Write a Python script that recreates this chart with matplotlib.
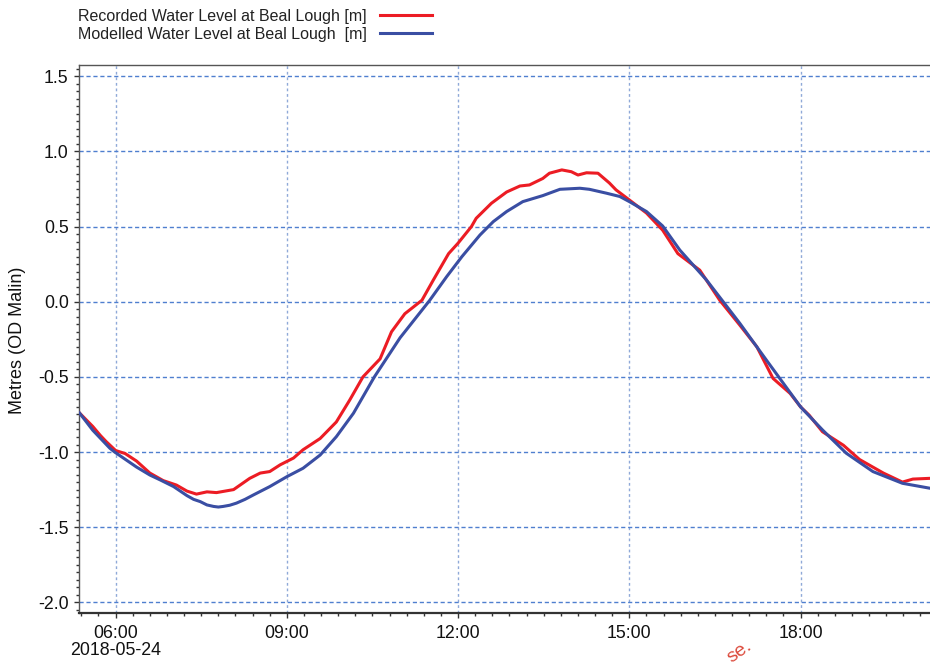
import numpy as np
import pandas as pd
import matplotlib
matplotlib.use('Agg')
import matplotlib.pyplot as plt
import matplotlib.dates as mdates
from matplotlib.ticker import MultipleLocator, FuncFormatter
from matplotlib.lines import Line2D

plt.rcParams['font.family'] = ['Liberation Sans', 'DejaVu Sans']
plt.rcParams['axes.unicode_minus'] = False

day = '2018-05-24'

# recorded water level (red)
rec_times = ['05:22', '05:36', '05:44', '05:50', '06:00', '06:10', '06:22', '06:36', '06:50',
             '07:04', '07:15', '07:25', '07:36', '07:46', '08:04', '08:21', '08:32',
             '08:42', '08:53', '09:07', '09:17', '09:35', '09:52', '10:06', '10:20',
             '10:38', '10:50', '11:04', '11:22', '11:34', '11:50', '12:00', '12:14',
             '12:19', '12:35', '12:51', '13:05', '13:15', '13:29', '13:36', '13:49',
             '13:59', '14:06', '14:15', '14:27', '14:39', '14:46', '15:00', '15:18',
             '15:35', '15:51', '16:14', '16:35', '16:56', '17:14', '17:31', '17:49',
             '18:00', '18:09', '18:23', '18:45', '19:02', '19:27', '19:47', '19:58',
             '20:16']
rec_level = [-0.74, -0.83, -0.89, -0.93, -0.99, -1.01, -1.06, -1.14, -1.19,
             -1.22, -1.26, -1.28, -1.265, -1.27, -1.25, -1.175, -1.14,
             -1.13, -1.085, -1.04, -0.985, -0.91, -0.80, -0.655, -0.50,
             -0.38, -0.20, -0.08, 0.01, 0.145, 0.32, 0.39, 0.50,
             0.555, 0.655, 0.73, 0.77, 0.777, 0.82, 0.855, 0.877,
             0.865, 0.843, 0.858, 0.855, 0.79, 0.744, 0.677, 0.59,
             0.476, 0.32, 0.21, 0.01, -0.155, -0.30, -0.51, -0.61,
             -0.70, -0.755, -0.865, -0.955, -1.05, -1.14, -1.20, -1.18,
             -1.175]

# modelled water level (blue)
mod_times = ['05:22', '05:36', '05:54', '05:59', '06:22', '06:36', '06:47', '07:01',
             '07:08', '07:15', '07:22', '07:29', '07:36', '07:43', '07:48', '07:53',
             '08:00', '08:07', '08:16', '08:25', '08:42', '09:00',
             '09:17', '09:35', '09:52', '10:10', '10:17', '10:32', '10:59', '11:30',
             '11:48', '12:04', '12:23', '12:37', '12:51', '13:08', '13:29', '13:47',
             '14:08', '14:18', '14:36', '14:50', '15:00', '15:18', '15:35', '15:53',
             '16:21', '16:56', '17:24', '18:00', '18:23', '18:48', '19:16', '19:47',
             '20:16']
mod_level = [-0.74, -0.855, -0.975, -1.0, -1.10, -1.153, -1.186, -1.23,
             -1.26, -1.29, -1.315, -1.33, -1.352, -1.362, -1.366, -1.362,
             -1.354, -1.34, -1.315, -1.285, -1.23, -1.164,
             -1.108, -1.02, -0.898, -0.742, -0.665, -0.50, -0.24, 0.008,
             0.167, 0.30, 0.444, 0.533, 0.60, 0.666, 0.706, 0.748,
             0.755, 0.748, 0.722, 0.70, 0.666, 0.60, 0.504, 0.344,
             0.145, -0.143, -0.388, -0.70, -0.853, -1.008, -1.13, -1.208,
             -1.241]

rec_x = pd.to_datetime([day + ' ' + t for t in rec_times])
mod_x = pd.to_datetime([day + ' ' + t for t in mod_times])

fig = plt.figure(figsize=(9.3, 6.66), dpi=100)
ax = fig.add_axes([78.5 / 930, 1 - 613.3 / 666, 1 - 78.5 / 930, (613.3 - 65) / 666])

ax.plot(rec_x, rec_level, color='#ec1c24', lw=2.2, zorder=3)
ax.plot(mod_x, mod_level, color='#3a4ea3', lw=2.2, zorder=4)

ax.set_xlim(pd.Timestamp(day + ' 05:21'), pd.Timestamp(day + ' 20:16'))
ax.set_ylim(-2.073, 1.575)

# x ticks: every 3 h, minor every 18 min (in days)
ax.xaxis.set_major_locator(MultipleLocator(0.125))
ax.xaxis.set_minor_locator(MultipleLocator(0.0125))

def fmt_time(v, pos):
    d = mdates.num2date(v)
    s = d.strftime('%H:%M')
    if d.hour == 6:
        s += '\n' + d.strftime('%Y-%m-%d')
    return s

ax.xaxis.set_major_formatter(FuncFormatter(fmt_time))
ax.yaxis.set_major_locator(MultipleLocator(0.5))
ax.yaxis.set_minor_locator(MultipleLocator(0.05))
ax.yaxis.set_major_formatter(FuncFormatter(lambda v, p: f'{v:.1f}'))

ax.tick_params(axis='both', which='major', length=3.6, width=1, color='#333333',
               labelsize=12.8, labelcolor='#111111')
ax.tick_params(axis='both', which='minor', length=2.4, width=1, color='#333333')
ax.tick_params(axis='x', which='major', pad=4.5)
ax.tick_params(axis='y', which='major', pad=3.5)
for lab in ax.get_xticklabels():
    lab.set_linespacing(1.05)

# grid
ax.grid(axis='y', which='major', color='#4f7fcf', lw=1, linestyle=(0, (3, 2)))
ax.grid(axis='x', which='major', color='#8fa9d8', lw=1, linestyle=(0, (2, 2)))

for side in ['left', 'top']:
    ax.spines[side].set_color('#555555')
    ax.spines[side].set_linewidth(1)
ax.spines['bottom'].set_color('#333333')
ax.spines['bottom'].set_linewidth(1.6)
ax.spines['right'].set_visible(False)

fig.text(18 / 930, 1 - 340 / 666, 'Metres (OD Malin)', rotation=90, ha='center',
         va='center', fontsize=13, color='#111111')

# legend drawn by hand at the top-left
fig.text(367 / 930, 1 - 21 / 666, 'Recorded Water Level at Beal Lough [m]', ha='right',
         va='baseline', fontsize=11.5, color='#222222')
fig.text(367 / 930, 1 - 39 / 666, 'Modelled Water Level at Beal Lough  [m]', ha='right',
         va='baseline', fontsize=11.5, color='#222222')
fig.add_artist(Line2D([380 / 930, 432 / 930], [1 - 15 / 666, 1 - 15 / 666],
                      color='#ec1c24', lw=2.2))
fig.add_artist(Line2D([380 / 930, 432 / 930], [1 - 33.3 / 666, 1 - 33.3 / 666],
                      color='#3a4ea3', lw=2.2))

# partial watermark at the bottom
fig.text(740 / 930, 1 - 652 / 666, 'se.', rotation=35, ha='center', va='center',
         fontsize=14, color='#dc4a3c')

fig.savefig('out.png', dpi=100)
